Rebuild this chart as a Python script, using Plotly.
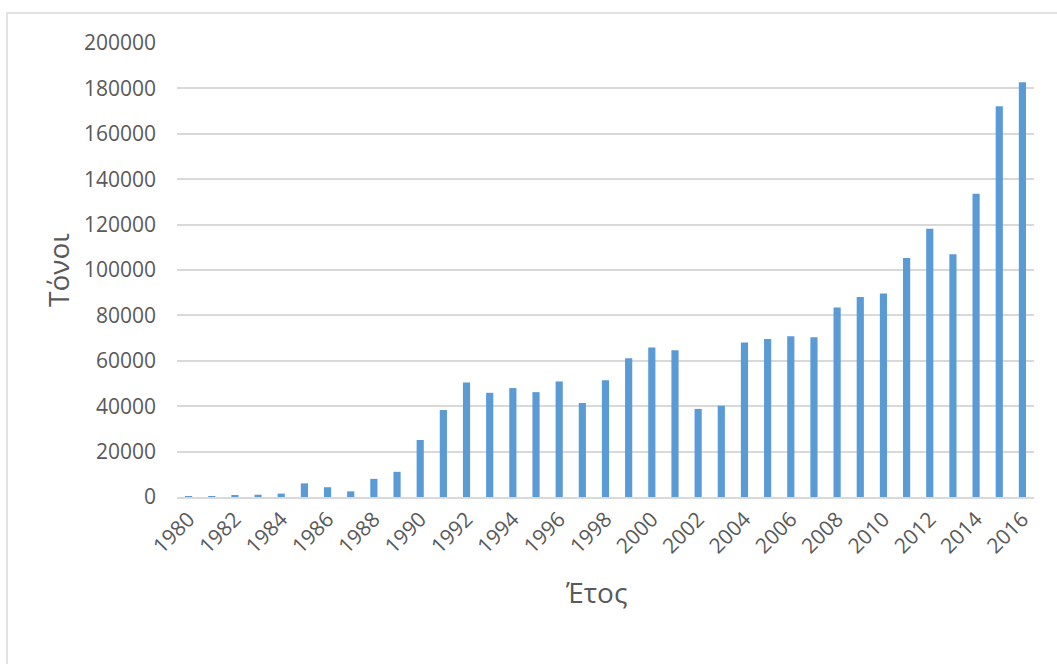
import plotly.graph_objects as go

# Annual quantities (tonnes), 1980-2016
years = list(range(1980, 2017))
tonnes = [
    50, 300, 600, 1000, 1500, 6000, 4300, 2500, 8000, 11100,
    25100, 38300, 50400, 45900, 48000, 46200, 50900, 41400, 51400, 61100,
    65900, 64600, 38800, 40200, 68100, 69600, 70800, 70400, 83500, 88100,
    89700, 105300, 118200, 106900, 133600, 172100, 182700,
]
tick_years = list(range(1980, 2017, 2))
y_ticks = list(range(0, 200001, 20000))

BAR = "#5b9bd5"
GRID = "#d9d9d9"
TEXT = "#595959"
FONT = "Open Sans"

W, H = 1057, 664
L, R, T, B = 177, 23, 43, 167
pw, ph = W - L - R, H - T - B


def px_x(px):
    return (px - L) / pw


def px_y(py):
    return (H - B - py) / ph


fig = go.Figure(
    go.Bar(
        x=[str(y) for y in years],
        y=tonnes,
        marker=dict(color=BAR, line=dict(width=0)),
        hovertemplate="%{x}: %{y}<extra></extra>",
    )
)

fig.update_layout(
    width=W,
    height=H,
    margin=dict(l=L, r=R, t=T, b=B, autoexpand=False),
    paper_bgcolor="white",
    plot_bgcolor="white",
    bargap=0.69,
    showlegend=False,
    font=dict(family=FONT, color=TEXT, size=21),
    xaxis=dict(
        type="category",
        tickmode="array",
        tickvals=[str(y) for y in tick_years],
        ticktext=[str(y) for y in tick_years],
        tickangle=-45,
        tickfont=dict(family=FONT, size=21, color=TEXT),
        showgrid=False,
        showline=True,
        linecolor=GRID,
        linewidth=1.5,
        ticks="",
        automargin=False,
    ),
    yaxis=dict(
        range=[0, 200000],
        tickmode="array",
        tickvals=y_ticks,
        ticktext=[str(v) for v in y_ticks],
        tickfont=dict(family=FONT, size=21, color=TEXT),
        showgrid=True,
        gridcolor=GRID,
        gridwidth=1.5,
        zeroline=False,
        showline=False,
        ticks="",
        ticklabelstandoff=20,
        automargin=False,
    ),
    annotations=[
        dict(
            text="Τόνοι",
            xref="paper", yref="paper",
            x=px_x(58), y=px_y(270),
            xanchor="center", yanchor="middle",
            textangle=-90,
            showarrow=False,
            font=dict(family=FONT, size=28, color=TEXT),
        ),
        dict(
            text="Έτος",
            xref="paper", yref="paper",
            x=px_x(596), y=px_y(592),
            xanchor="center", yanchor="middle",
            showarrow=False,
            font=dict(family=FONT, size=28, color=TEXT),
        ),
    ],
    shapes=[
        dict(
            type="rect",
            xref="paper", yref="paper",
            x0=px_x(7), x1=px_x(W + 20),
            y0=px_y(H + 20), y1=px_y(13),
            line=dict(color=GRID, width=1.5),
            fillcolor="rgba(0,0,0,0)",
            layer="below",
        )
    ],
)

fig.write_html("out.html")
